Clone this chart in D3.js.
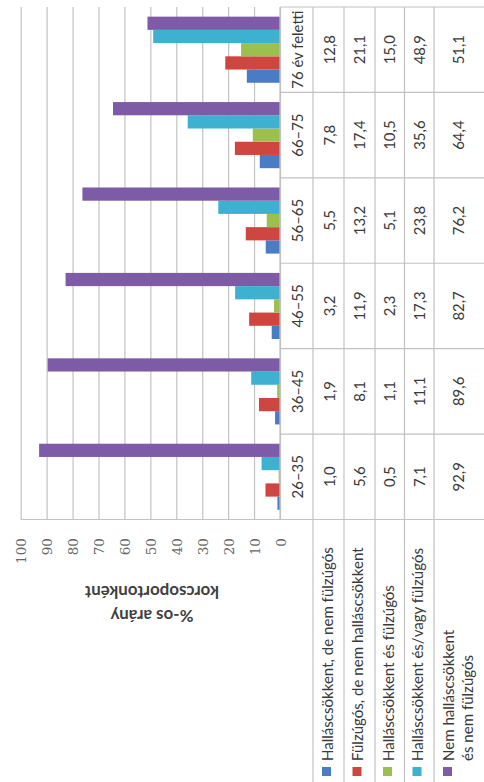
<!DOCTYPE html>
<html>
<head>
<meta charset="utf-8">
<script src="https://cdn.jsdelivr.net/npm/d3@7"></script>
<style>
  body { margin: 0; background: #fff; }
  svg { display: block; }
</style>
</head>
<body>
<svg id="chart" width="484" height="782"></svg>
<script>
// korcsoportok
const categories = ["26–35", "36–45", "46–55", "56–65", "66–75", "76 év feletti"];
// sorozatok nevei (több soros címkék)
const seriesNames = [
  ["Halláscsökkent, de nem fülzúgós"],
  ["Fülzúgós, de nem halláscsökkent"],
  ["Halláscsökkent és fülzúgós"],
  ["Halláscsökkent és/vagy fülzúgós"],
  ["Nem halláscsökkent", "és nem fülzúgós"]
];
const hallasOnly = [1.0, 1.9, 3.2, 5.5, 7.8, 12.8];
const fulzugasOnly = [5.6, 8.1, 11.9, 13.2, 17.4, 21.1];
const mindketto = [0.5, 1.1, 2.3, 5.1, 10.5, 15.0];
const vagyVagy = [7.1, 11.1, 17.3, 23.8, 35.6, 48.9];
const egyikSem = [92.9, 89.6, 82.7, 76.2, 64.4, 51.1];
const valueTicks = [0, 10, 20, 30, 40, 50, 60, 70, 80, 90, 100];
const axisTitle = ["%-os arány", "korcsoportonként"];

const seriesValues = [hallasOnly, fulzugasOnly, mindketto, vagyVagy, egyikSem];
const colors = ["#4a7cc6", "#cf4540", "#9cc04e", "#3eb1d0", "#7e5ba7"];

const svg = d3.select("#chart");
const fmt = v => d3.format(".1f")(v).replace(".", ",");

const font = "Lato, 'Open Sans', sans-serif";
const serif = "'DejaVu Serif', serif";

// betűméret a minta szöveg hosszából (a képen mért hosszhoz igazítva)
function fitSize(sample, family, weight, target) {
  const t = svg.append("text")
    .attr("font-family", family).attr("font-weight", weight)
    .attr("font-size", 100).text(sample);
  const len = t.node().getComputedTextLength();
  t.remove();
  return len ? 100 * target / len : 14;
}
const tableSize = fitSize("76 év feletti", font, "normal", 78);
const legendSize = fitSize("Halláscsökkent, de nem fülzúgós", font, "normal", 214);
const titleSize = fitSize("korcsoportonként", font, "bold", 134);
const tickSize = fitSize("100", serif, "normal", 26);

// a kép el van forgatva: az értéktengely vízszintes (jobbról balra), a kategóriák alulról felfelé
const plotTop = 7, plotBottom = 519.5;
const x = d3.scaleLinear().domain([0, 100]).range([280, 20.7]);
const y = d3.scaleBand().domain(categories.slice().reverse()).range([plotTop, plotBottom]);
const inner = d3.scaleBand()
  .domain(d3.range(seriesValues.length).reverse())
  .range([0, y.bandwidth()])
  .paddingInner(0)
  .paddingOuter(0.73);

// táblázat sorhatárai (képernyő x)
const rowEdges = [280, 313, 344, 375, 404.5, 434, 484];
const lineColor = "#c2c2c2";

// rácsvonalak
svg.append("g")
  .attr("class", "grid")
  .attr("transform", `translate(0,${plotBottom})`)
  .call(d3.axisTop(x).tickValues(valueTicks).tickSize(plotBottom - plotTop).tickFormat(""))
  .call(g => g.select(".domain").remove())
  .call(g => g.selectAll("line").attr("stroke", lineColor).attr("stroke-width", 1.2));

// oszlopok
const groups = svg.append("g").attr("class", "bars")
  .selectAll("g")
  .data(categories)
  .join("g")
  .attr("transform", d => `translate(0,${y(d)})`);

groups.selectAll("rect")
  .data((c, ci) => seriesValues.map((vals, si) => ({ si, v: vals[ci] })))
  .join("rect")
  .attr("x", d => x(d.v))
  .attr("y", d => inner(d.si))
  .attr("width", d => x(0) - x(d.v))
  .attr("height", inner.bandwidth())
  .attr("fill", d => colors[d.si]);

// táblázat vonalai
const table = svg.append("g").attr("class", "table")
  .attr("stroke", lineColor).attr("stroke-width", 1.2);
table.append("line").attr("x1", rowEdges[0]).attr("x2", 484).attr("y1", plotTop).attr("y2", plotTop);
categories.forEach(c => {
  table.append("line").attr("x1", rowEdges[0]).attr("x2", 484)
    .attr("y1", y(c) + y.bandwidth()).attr("y2", y(c) + y.bandwidth());
});
table.append("line").attr("x1", x(100)).attr("x2", 484).attr("y1", plotBottom).attr("y2", plotBottom);
table.append("line").attr("x1", rowEdges[0]).attr("x2", rowEdges[0]).attr("y1", plotTop).attr("y2", plotBottom);
rowEdges.slice(1, -1).forEach(r => {
  table.append("line").attr("x1", r).attr("x2", r).attr("y1", plotTop).attr("y2", 782);
});

const textColor = "#3a3a3a";

// kategóriafejlécek
svg.append("g").selectAll("text")
  .data(categories)
  .join("text")
  .attr("transform", d => `translate(${(rowEdges[0] + rowEdges[1]) / 2},${y(d) + y.bandwidth() / 2}) rotate(-90)`)
  .attr("text-anchor", "middle")
  .attr("dominant-baseline", "central")
  .attr("font-family", font)
  .attr("font-size", tableSize)
  .attr("fill", textColor)
  .text(d => d);

// értékek a táblázatban
const rowCenters = [328.5, 358.5, 388.5, 418.5, 458];
seriesValues.forEach((vals, si) => {
  svg.append("g").selectAll("text")
    .data(vals)
    .join("text")
    .attr("transform", (v, i) => `translate(${rowCenters[si]},${y(categories[i]) + y.bandwidth() / 2}) rotate(-90)`)
    .attr("text-anchor", "middle")
    .attr("dominant-baseline", "central")
    .attr("font-family", font)
    .attr("font-size", tableSize)
    .attr("fill", textColor)
    .text(v => fmt(v));
});

// jelmagyarázat (sorfejlécek)
const legendLine = [[326.5], [357], [387.5], [417], [447.5, 467]];
const legend = svg.append("g").attr("class", "legend");
seriesNames.forEach((lines, si) => {
  legend.append("rect")
    .attr("x", legendLine[si][0] - 4.5)
    .attr("y", 767)
    .attr("width", 9)
    .attr("height", 9)
    .attr("fill", colors[si]);
  lines.forEach((t, li) => {
    legend.append("text")
      .attr("transform", `translate(${legendLine[si][li]},761) rotate(-90)`)
      .attr("dominant-baseline", "central")
      .attr("font-family", font)
      .attr("font-size", legendSize)
      .attr("fill", textColor)
      .text(t);
  });
});

// értéktengely feliratai
svg.append("g")
  .attr("transform", "translate(0,538)")
  .call(d3.axisBottom(x).tickValues(valueTicks).tickSize(0).tickFormat(d3.format("d")))
  .call(g => g.select(".domain").remove())
  .call(g => g.selectAll("text")
    .attr("y", 0).attr("dy", null)
    .attr("transform", "rotate(-90)")
    .attr("text-anchor", "end")
    .attr("dominant-baseline", "central")
    .attr("font-family", serif)
    .attr("font-size", tickSize)
    .attr("fill", "#666"));

// tengelycím (fejjel lefelé)
const titleY = [616, 592];
svg.append("g").selectAll("text")
  .data(axisTitle)
  .join("text")
  .attr("transform", (d, i) => `translate(152,${titleY[i]}) rotate(180)`)
  .attr("text-anchor", "middle")
  .attr("dominant-baseline", "central")
  .attr("font-family", font)
  .attr("font-weight", "bold")
  .attr("font-size", titleSize)
  .attr("fill", "#404040")
  .text(d => d);
</script>
</body>
</html>
